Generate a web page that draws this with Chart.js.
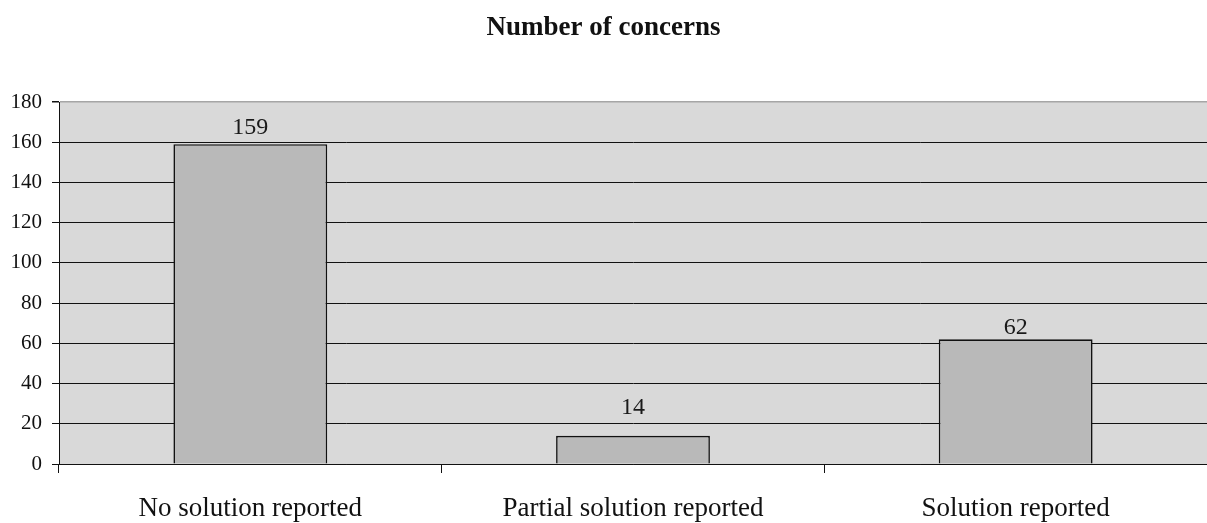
<!DOCTYPE html>
<html>
<head>
<meta charset="utf-8">
<script src="https://cdn.jsdelivr.net/npm/chart.js@4.4.1/dist/chart.umd.min.js"></script>
<style>
  html, body { margin: 0; padding: 0; background: #ffffff; }
  #wrap { width: 1207px; height: 523px; }
</style>
</head>
<body>
<div id="wrap"><canvas id="c" width="1207" height="523"></canvas></div>
<script>
const categories = ["No solution reported", "Partial solution reported", "Solution reported"];
const concerns = [159, 14, 62];
const yTicks = [0, 20, 40, 60, 80, 100, 120, 140, 160, 180];
const chartTitle = "Number of concerns";

const FONT = "'Liberation Serif', 'Times New Roman', Times, serif";

const plotBg = {
  id: 'plotBg',
  beforeDraw(chart) {
    const a = chart.chartArea;
    const ctx = chart.ctx;
    ctx.save();
    ctx.fillStyle = '#d9d9d9';
    ctx.fillRect(a.left, a.top, a.right - a.left, a.bottom - a.top);
    ctx.restore();
  }
};

const valueLabels = {
  id: 'valueLabels',
  afterDatasetsDraw(chart, args, opts) {
    const ctx = chart.ctx;
    const meta = chart.getDatasetMeta(0);
    const gaps = opts.gaps || [];
    ctx.save();
    ctx.font = '24px ' + FONT;
    ctx.fillStyle = '#1a1a1a';
    ctx.textAlign = 'center';
    ctx.textBaseline = 'alphabetic';
    meta.data.forEach((bar, i) => {
      const g = gaps[i] !== undefined ? gaps[i] : 9;
      ctx.fillText(String(concerns[i]), bar.x, bar.y - g);
    });
    ctx.restore();
  }
};

new Chart(document.getElementById('c'), {
  type: 'bar',
  data: {
    labels: categories,
    datasets: [{
      data: concerns,
      backgroundColor: '#b9b9b9',
      borderColor: '#111111',
      borderWidth: 1.6,
      barPercentage: 0.402,
      categoryPercentage: 1.0
    }]
  },
  options: {
    responsive: false,
    animation: false,
    devicePixelRatio: 1,
    layout: { padding: { left: 0, right: 0, top: 0, bottom: 0 } },
    plugins: {
      legend: { display: false },
      tooltip: { enabled: false },
      valueLabels: { gaps: [10, 22, 5] },
      title: {
        display: true,
        text: chartTitle,
        color: '#111111',
        font: { family: FONT, size: 27, weight: 'bold', lineHeight: 1.2 },
        padding: { top: 12, bottom: 57.6 }
      }
    },
    scales: {
      x: {
        type: 'category',
        offset: true,
        grid: {
          offset: true,
          drawOnChartArea: false,
          drawTicks: true,
          tickLength: 9,
          color: '#111111',
          lineWidth: 1
        },
        border: { display: true, color: '#111111', width: 1 },
        ticks: {
          color: '#111111',
          font: { family: FONT, size: 27 },
          padding: 20,
          maxRotation: 0,
          autoSkip: false
        },
        afterFit(scale) { scale.height = 59; }
      },
      y: {
        min: 0,
        max: 180,
        afterBuildTicks(scale) {
          scale.ticks = yTicks.map(v => ({ value: v }));
        },
        grid: {
          color: ctx => (ctx.tick && ctx.tick.value === 180) ? '#a6a6a6' : '#111111',
          lineWidth: ctx => (ctx.tick && ctx.tick.value === 180) ? 1.5 : 1,
          tickColor: '#111111',
          tickLength: 7,
          drawTicks: true
        },
        border: { display: true, color: '#111111', width: 1 },
        ticks: {
          color: '#111111',
          font: { family: FONT, size: 21 },
          padding: 10
        },
        afterFit(scale) { scale.width = 59; }
      }
    }
  },
  plugins: [plotBg, valueLabels]
});
</script>
</body>
</html>
